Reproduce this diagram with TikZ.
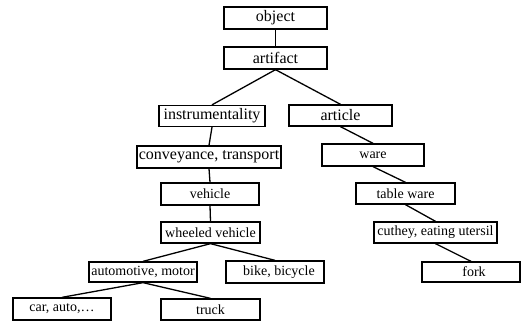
\documentclass[tikz,border=0pt]{standalone}
\usepackage{fontspec}
\setmainfont{Liberation Serif}
\begin{document}
\begin{tikzpicture}[x=1pt,y=-1pt,
  box/.style={draw=black,line width=1.3pt,inner sep=0pt,fill=white},
  big/.style={box,font=\fontsize{16}{18}\selectfont},
  small/.style={box,font=\fontsize{14}{16}\selectfont},
  link/.style={line width=1.3pt}]
\useasboundingbox (0,0) rectangle (522,321);
\node[big,minimum width=103pt,minimum height=22pt] (object) at (275.5,18) {object};
\node[big,minimum width=103pt,minimum height=22pt] (artifact) at (275.5,58) {artifact};
\node[big,minimum width=106pt,minimum height=21pt] (instr) at (212,116) {instrumentality};
\node[big,minimum width=103pt,minimum height=21pt] (article) at (340.5,115.5) {article};
\node[big,minimum width=144pt,minimum height=22pt] (conv) at (209,157) {conveyance, transport};
\node[small,minimum width=102pt,minimum height=22pt] (ware) at (373,155) {ware};
\node[small,minimum width=98pt,minimum height=22pt] (vehicle) at (210,194) {vehicle\hspace{6pt}};
\node[small,minimum width=99pt,minimum height=21pt] (table) at (405.5,193.5) {table ware};
\node[small,minimum width=99pt,minimum height=21pt] (wheeled) at (210.5,232.5) {wheeled vehicle};
\node[small,minimum width=123pt,minimum height=21pt] (cuthey) at (435.5,232.5) {cuthey, eating utersil};
\node[small,minimum width=108pt,minimum height=20pt] (auto) at (143,272) {automotive, motor};
\node[small,minimum width=98pt,minimum height=22pt] (bike) at (275,272) {\hspace{8pt}bike, bicycle};
\node[small,minimum width=98pt,minimum height=20pt] (fork) at (471,272) {\hspace{6pt}fork};
\node[small,minimum width=98pt,minimum height=22pt] (car) at (62,309) {car, auto,\dots\hspace{6pt}};
\node[small,minimum width=99pt,minimum height=21pt] (truck) at (210.5,309.5) {truck};
\draw[link] (object.south) -- (artifact.north);
\draw[link] (artifact.south) -- (instr.north);
\draw[link] (artifact.south) -- (article.north);
\draw[link] (instr.south) -- (conv.north);
\draw[link] (conv.south) -- (vehicle.north);
\draw[link] (vehicle.south) -- (wheeled.north);
\draw[link] (wheeled.south) -- (auto.north);
\draw[link] (wheeled.south) -- (bike.north);
\draw[link] (auto.south) -- (car.north);
\draw[link] (auto.south) -- (truck.north);
\draw[link] (article.south) -- (ware.north);
\draw[link] (ware.south) -- (table.north);
\draw[link] (table.south) -- (cuthey.north);
\draw[link] (cuthey.south) -- (fork.north);
\end{tikzpicture}
\end{document}
